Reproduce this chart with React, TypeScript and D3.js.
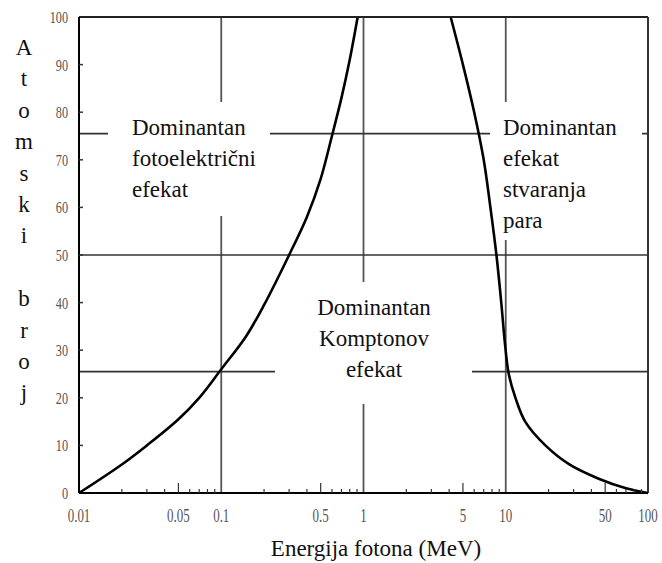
import React from 'react';
import * as d3 from 'd3';

const width = 662;
const height = 563;

// photoelectric / Compton boundary (energy MeV, atomic number)
const photoE = [0.01, 0.02, 0.03, 0.05, 0.07, 0.1, 0.15, 0.2, 0.3, 0.4, 0.5, 0.6, 0.7, 0.8, 0.91];
const photoZ = [0, 6, 10, 15.5, 20, 26, 33, 39.5, 50, 58, 66, 75, 83, 91, 100];

// Compton / pair production boundary
const pairE = [4.1, 5.0, 6.0, 7.0, 7.8, 8.6, 9.3, 9.9, 10.5, 11.7, 13.7, 19, 28, 45, 70, 100];
const pairZ = [100, 90, 80, 70, 60, 50, 40, 31, 25, 20, 15, 10, 6, 3, 1, 0];

const xTicks = [0.01, 0.05, 0.1, 0.5, 1, 5, 10, 50, 100];
const xTickLabels = ['0.01', '0.05', '0.1', '0.5', '1', '5', '10', '50', '100'];
const yTicks = [0, 10, 20, 30, 40, 50, 60, 70, 80, 90, 100];
const gridX = [0.1, 1, 10];
const gridY = [25.5, 50, 75.5];

const yLabel = ['A', 't', 'o', 'm', 's', 'k', 'i', '', 'b', 'r', 'o', 'j'];

const boxes = [
  { x: 108, y: 102, w: 162, h: 114, anchor: 'start', tx: 132, lines: ['Dominantan', 'fotoelektrični', 'efekat'] },
  { x: 275, y: 282, w: 197, h: 122, anchor: 'middle', tx: 374, lines: ['Dominantan', 'Komptonov', 'efekat'] },
  { x: 490, y: 102, w: 152, h: 138, anchor: 'start', tx: 503, lines: ['Dominantan', 'efekat', 'stvaranja', 'para'] },
];

const serif = '"Liberation Serif", "Times New Roman", serif';

export default function App() {
  const x = d3.scaleLog().domain([0.01, 100]).range([79, 648]);
  const y = d3.scaleLinear().domain([0, 100]).range([493, 17]);

  const curve = d3
    .line<[number, number]>()
    .x((d) => x(d[0]))
    .y((d) => y(d[1]))
    .curve(d3.curveCatmullRom);

  const photoPath = curve(photoE.map((e, i) => [e, photoZ[i]]));
  const pairPath = curve(pairE.map((e, i) => [e, pairZ[i]]));

  const minor: number[] = [];
  [0.01, 0.1, 1, 10].forEach((dec) => {
    for (let k = 2; k <= 9; k++) minor.push(dec * k);
  });

  return (
    <svg width={width} height={height} style={{ position: 'absolute', left: 0, top: 0, background: '#fff' }}>
      <rect width={width} height={height} fill="#fff" />
      {/* grid */}
      {gridX.map((g) => (
        <line key={'gx' + g} x1={x(g)} x2={x(g)} y1={y(100)} y2={y(0)} stroke="#555" strokeWidth={1.8} />
      ))}
      {gridY.map((g) => (
        <line key={'gy' + g} x1={x(0.01)} x2={x(100)} y1={y(g)} y2={y(g)} stroke="#333" strokeWidth={1.6} />
      ))}
      {/* text boxes */}
      {boxes.map((b, i) => (
        <g key={'b' + i}>
          <rect x={b.x} y={b.y} width={b.w} height={b.h} fill="#fff" />
          {b.lines.map((t, j) => (
            <text
              key={j}
              x={b.tx}
              y={b.y + 33 + j * 31}
              textAnchor={b.anchor as any}
              fontFamily={serif}
              fontSize={23}
              fill="#111"
            >
              {t}
            </text>
          ))}
        </g>
      ))}
      {/* curves */}
      <path d={photoPath || ''} fill="none" stroke="#000" strokeWidth={2.6} />
      <path d={pairPath || ''} fill="none" stroke="#000" strokeWidth={2.6} />
      {/* frame */}
      <line x1={x(0.01)} x2={x(100)} y1={y(100)} y2={y(100)} stroke="#222" strokeWidth={2} />
      <line x1={x(100)} x2={x(100)} y1={y(100)} y2={y(0)} stroke="#333" strokeWidth={2} />
      <line x1={x(0.01)} x2={x(0.01)} y1={y(100)} y2={y(0)} stroke="#000" strokeWidth={2} />
      <line x1={x(0.01)} x2={x(100)} y1={y(0)} y2={y(0)} stroke="#000" strokeWidth={2} />
      {/* x ticks */}
      {minor.map((m) => (
        <line
          key={'m' + m}
          x1={x(m)}
          x2={x(m)}
          y1={y(0)}
          y2={y(0) - (Math.round(m / Math.pow(10, Math.floor(Math.log10(m) + 1e-9))) === 5 ? 10 : 4)}
          stroke="#333"
          strokeWidth={1.2}
        />
      ))}
      {xTicks.map((t, i) => (
        <text
          key={'xt' + t}
          transform={`translate(${x(t)},${y(0) + 29}) scale(0.72,1)`}
          textAnchor="middle"
          fontFamily={serif}
          fontSize={18}
          fill="#555"
        >
          {xTickLabels[i]}
        </text>
      ))}
      {/* y ticks */}
      {yTicks.map((t) => (
        <g key={'yt' + t}>
          {t > 0 && t < 100 && (
            <line x1={x(0.01)} x2={x(0.01) + 4} y1={y(t)} y2={y(t)} stroke="#333" strokeWidth={1.5} />
          )}
          <text
            transform={`translate(${x(0.01) - 11},${y(t) + 6}) scale(0.72,1)`}
            textAnchor="end"
            fontFamily={serif}
            fontSize={17}
            fill="#555"
          >
            {t}
          </text>
        </g>
      ))}
      {/* axis titles */}
      <text x={376} y={556} textAnchor="middle" fontFamily={serif} fontSize={23} fill="#111">
        Energija fotona (MeV)
      </text>
      {yLabel.map((c, i) => (
        <text key={'yl' + i} x={24} y={55 + i * 31.4} textAnchor="middle" fontFamily={serif} fontSize={23} fill="#111">
          {c}
        </text>
      ))}
    </svg>
  );
}
